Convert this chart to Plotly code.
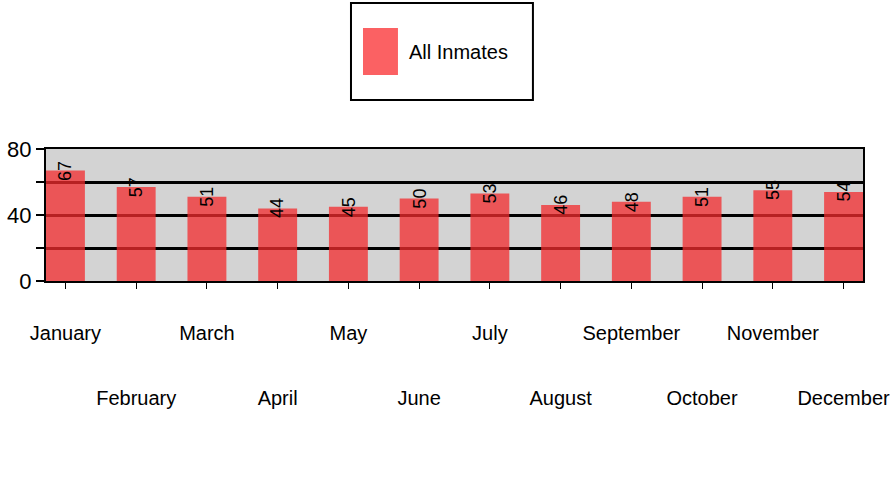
import plotly.graph_objects as go

months = ["January", "February", "March", "April", "May", "June",
          "July", "August", "September", "October", "November", "December"]
inmates = [67, 57, 51, 44, 45, 50, 53, 46, 48, 51, 55, 54]
series_name = "All Inmates"
y_tickvals = [0, 20, 40, 60, 80]
y_ticktext = ["0", "", "40", "", "80"]

FONT = "Liberation Sans, Arial, sans-serif"
pos = list(range(len(months)))

# staggered two-row month labels
x_ticktext = [
    ("" if i % 2 == 0 else "<br><br>") + "<span style='font-size:20px'>" + m + "</span>"
    for i, m in enumerate(months)
]

fig = go.Figure()
fig.add_trace(go.Bar(
    x=pos, y=inmates, name=series_name, text=months,
    hovertemplate="%{text}: %{y}<extra></extra>", textposition="none",
    marker=dict(color="rgb(244,44,46)", line=dict(width=0)),
    opacity=0.75, showlegend=False,
))

annotations = []
for p, v in zip(pos, inmates):
    annotations.append(dict(
        x=p, y=v, xref="x", yref="y", text=str(v), showarrow=False,
        textangle=-90, xanchor="center", yanchor="middle",
        font=dict(family=FONT, size=18, color="black"),
    ))

# legend drawn as a framed box
annotations.append(dict(
    x=0.4419, y=1.735, xref="paper", yref="paper", text=series_name,
    showarrow=False, xanchor="left", yanchor="middle",
    font=dict(family=FONT, size=20, color="black"),
))
shapes = [
    dict(type="rect", xref="paper", yref="paper", x0=0.3733, x1=0.596, y0=1.371, y1=2.106,
         line=dict(color="black", width=2), fillcolor="white", layer="above"),
    dict(type="rect", xref="paper", yref="paper", x0=0.388, x1=0.4308, y0=1.5606, y1=1.9167,
         line=dict(width=0), fillcolor="#FB6163", layer="above"),
]

bw = 0.55
xr = [-bw / 2, len(months) - 1 + bw / 2]
fig.update_layout(
    width=893, height=498,
    margin=dict(l=46, r=30, t=149, b=217),
    paper_bgcolor="white", plot_bgcolor="#D3D3D3",
    bargap=1 - bw,
    annotations=annotations, shapes=shapes,
    font=dict(family=FONT, color="black"),
    xaxis=dict(
        range=xr, tickvals=pos, ticktext=x_ticktext,
        ticks="outside", ticklen=6, tickwidth=1, tickcolor="black",
        tickfont=dict(family=FONT, size=25, color="black"), tickangle=0, automargin=False,
        showline=True, linecolor="black", linewidth=2, mirror=True,
        showgrid=False, zeroline=False, ticklabelstandoff=21,
    ),
    yaxis=dict(
        range=[0, 80], tickvals=y_tickvals, ticktext=y_ticktext,
        ticks="outside", ticklen=8, tickwidth=2, tickcolor="black",
        tickfont=dict(family=FONT, size=22, color="black"), automargin=False,
        showline=True, linecolor="black", linewidth=2, mirror=True,
        showgrid=True, gridcolor="black", gridwidth=2.5, zeroline=False,
    ),
)

fig.write_html("out.html", config={"displayModeBar": False},
               post_script="document.body.style.margin='0px';")
